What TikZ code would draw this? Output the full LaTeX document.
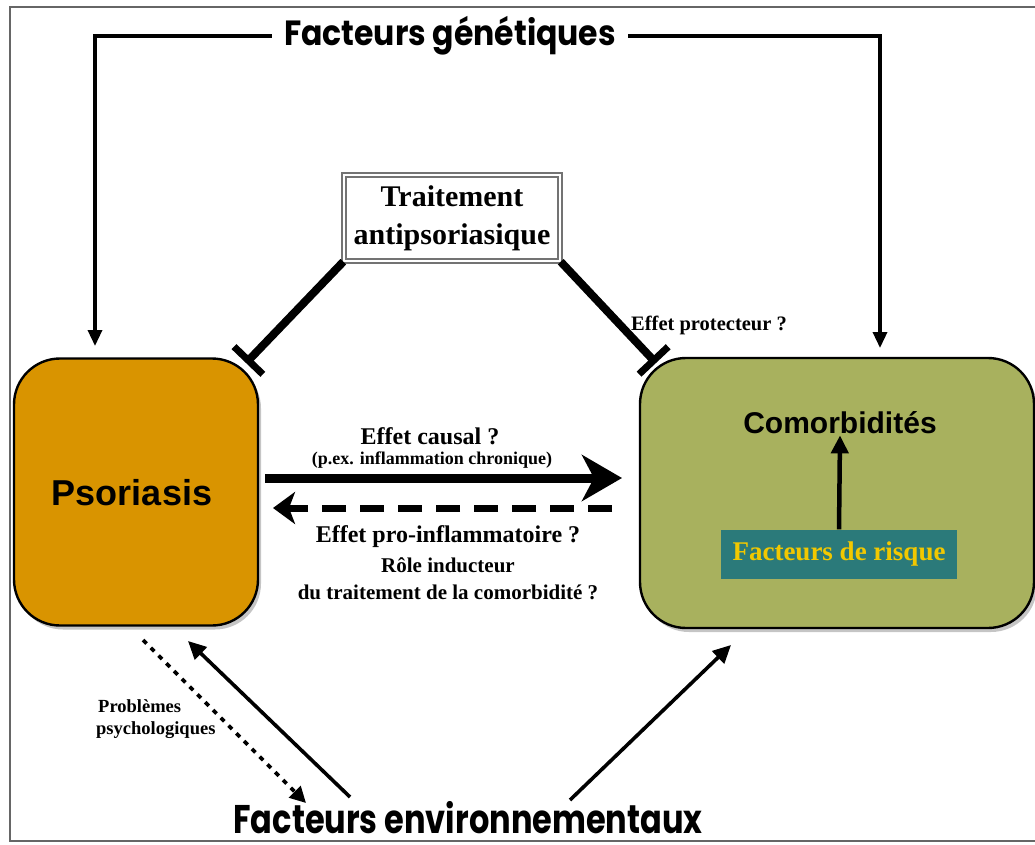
\documentclass[tikz,border=0pt]{standalone}
\usepackage{fontspec}
\usetikzlibrary{arrows.meta,shadows,calc}
\setmainfont{Liberation Serif}
\newfontfamily\roundfont{Poppins}
\newfontfamily\arialfont{Liberation Sans}
\definecolor{psocol}{HTML}{D99400}
\definecolor{comcol}{HTML}{A8B15E}
\definecolor{riskcol}{HTML}{2B7A7A}
\definecolor{riskfg}{HTML}{F2C800}
\begin{document}
\begin{tikzpicture}[x=1pt,y=-1pt,
  bigbox/.style={draw=black, line width=2.4pt, rounded corners=46pt,
    drop shadow={shadow xshift=3pt, shadow yshift=-4pt, opacity=0.45}},
  title/.style={inner sep=0pt},
  serifb/.style={font=\bfseries, align=center, inner sep=0pt},
  thinarrow/.style={line width=3.4pt, -{Triangle[length=16pt,width=14pt]}},
  blocker/.style={line width=8pt, -{Bar[width=40pt,line width=7pt]}}]
\useasboundingbox (0,0) rectangle (1035,845);
\fill[white] (0,0) rectangle (1035,845);
\draw[black!60, line width=1.5pt] (10,7) rectangle (1036,841);

% titles
\node[title] (gen) at (450,36) {\roundfont\bfseries\fontsize{35}{38}\selectfont\scalebox{0.9}[1]{Facteurs génétiques}};
\node[title] (env) at (468,818) {\roundfont\bfseries\fontsize{40}{44}\selectfont\scalebox{0.8}[1]{Facteurs environnementaux}};

% main boxes
\node[bigbox, fill=psocol, minimum width=244pt, minimum height=267pt] (pso) at (136,492) {};
\node[font=\arialfont\bfseries\fontsize{36}{40}\selectfont] at (132,493) {Psoriasis};
\node[bigbox, fill=comcol, minimum width=394pt, minimum height=270pt] (com) at (837,493) {};
\node[font=\arialfont\bfseries\fontsize{30}{33}\selectfont, inner sep=1pt] (comt) at (840,423) {Comorbidités};
\node[fill=riskcol, minimum width=236pt, minimum height=49pt, inner sep=0pt,
      text=riskfg, font=\bfseries\fontsize{27}{30}\selectfont] (risk) at (839,554) {Facteurs de risque};
\draw[line width=4.5pt, -{Triangle[length=18pt,width=17pt]}] (risk.north) -- (comt.south);

% treatment
\node[draw=black!55, double=white, double distance=2.5pt, line width=1.4pt,
      minimum width=216pt, minimum height=86pt, inner sep=0pt,
      serifb, font=\bfseries\fontsize{30}{38}\selectfont] (trt) at (452,218) {Traitement\\antipsoriasique};

% genetic arrows
\coordinate (gl) at (95,346);
\coordinate (gr) at (880,348);
\draw[thinarrow] ([xshift=-12pt]gen.west) -| (gl);
\draw[thinarrow] ([xshift=12pt]gen.east) -| (gr);

% inhibition by the treatment
\coordinate (il) at (246,363);
\coordinate (ir) at (656,363);
\draw[blocker] (trt.south west) -- (il);
\draw[blocker] (trt.south east) -- (ir);
\node[serifb, font=\bfseries\fontsize{20.5}{23}\selectfont, anchor=west] (prot) at (631,325) {Effet protecteur ?};

% causal / pro-inflammatory
\coordinate (ca) at (265,478);
\coordinate (cb) at (622,478);
\draw[line width=9pt, -{Stealth[length=40pt,width=46pt,inset=12pt]}] (ca) -- (cb);
\node[serifb, font=\bfseries\fontsize{24}{26}\selectfont] (causal) at (430,436) {Effet causal ?};
\node[serifb, font=\bfseries\fontsize{18}{20}\selectfont] (pex) at (432,460) {(p.ex. inflammation chronique)};
\coordinate (da) at (612,508);
\coordinate (db) at (273,508);
\draw[line width=7pt, dash pattern=on 24pt off 14pt, -{Stealth[length=22pt,width=32pt,inset=6pt]}] (da) -- (db);
\node[serifb, font=\bfseries\fontsize{24}{27}\selectfont] (pro) at (448,537) {Effet pro-inflammatoire ?};
\node[serifb, font=\bfseries\fontsize{21}{27}\selectfont] (role) at (448,579) {Rôle inducteur\\du traitement de la comorbidité ?};

% environmental links
\coordinate (p1) at (143,640);
\coordinate (p2) at (306,803);
\draw[line width=3.6pt, dash pattern=on 5pt off 6pt, -{Triangle[length=16pt,width=16pt]}] (p1) -- (p2);
\node[serifb, font=\bfseries\fontsize{18.5}{22}\selectfont, align=left, anchor=west] (psy) at (96,719) {\hspace*{2pt}Problèmes\\psychologiques};
\coordinate (e1) at (350,797);
\coordinate (e2) at (188,641);
\draw[line width=3.6pt, -{Triangle[length=18pt,width=17pt]}] (e1) -- (e2);
\coordinate (e3) at (570,800);
\coordinate (e4) at (731,645);
\draw[line width=3.6pt, -{Triangle[length=18pt,width=17pt]}] (e3) -- (e4);
\end{tikzpicture}
\end{document}
